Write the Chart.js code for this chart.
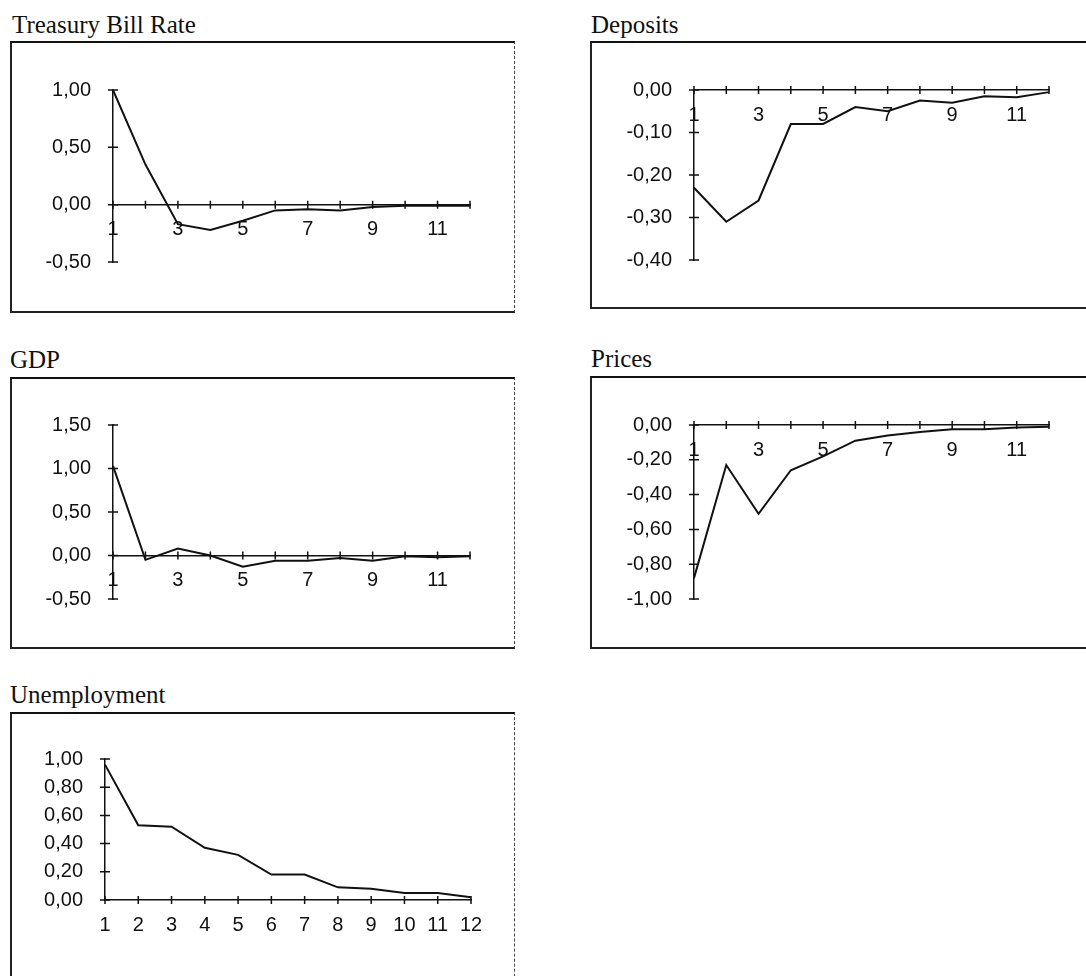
<!DOCTYPE html>
<html>
<head>
<meta charset="utf-8">
<script src="https://cdn.jsdelivr.net/npm/chart.js@4.4.1/dist/chart.umd.min.js"></script>
<style>
  html, body { margin: 0; padding: 0; background: #fff; }
  body { width: 1086px; height: 976px; position: relative; overflow: hidden; }
  .title { position: absolute; font-family: "Liberation Serif", "Times New Roman", serif; font-size: 25px; line-height: 25px; color: #111; white-space: nowrap; }
  .frame { position: absolute; box-sizing: border-box; border-top: 2px solid #111; border-left: 2px solid #222; border-bottom: 2px solid #222; border-right: 1px dashed #444; }
  canvas { position: absolute; }
</style>
</head>
<body>

<div class="title" style="left:12px; top:12px;">Treasury Bill Rate</div>
<div class="frame" style="left:10px; top:41px; width:505px; height:272px;"></div>
<canvas id="tbill" width="503" height="272" style="left:10px; top:41px;"></canvas>

<div class="title" style="left:591px; top:12px;">Deposits</div>
<div class="frame" style="left:590px; top:41px; width:520px; height:268px;"></div>
<canvas id="deposits" width="496" height="268" style="left:590px; top:41px;"></canvas>

<div class="title" style="left:10px; top:347px;">GDP</div>
<div class="frame" style="left:10px; top:377px; width:505px; height:272px;"></div>
<canvas id="gdp" width="503" height="272" style="left:10px; top:377px;"></canvas>

<div class="title" style="left:591px; top:346px;">Prices</div>
<div class="frame" style="left:590px; top:376px; width:520px; height:273px;"></div>
<canvas id="prices" width="496" height="273" style="left:590px; top:376px;"></canvas>

<div class="title" style="left:10px; top:682px;">Unemployment</div>
<div class="frame" style="left:10px; top:712px; width:505px; height:300px;"></div>
<canvas id="unemp" width="503" height="264" style="left:10px; top:712px;"></canvas>

<script>
// periods after the shock
const periods = ["1", "2", "3", "4", "5", "6", "7", "8", "9", "10", "11", "12"];

// responses
const tbillRate = [1.00, 0.35, -0.17, -0.22, -0.14, -0.05, -0.04, -0.05, -0.02, -0.01, -0.01, -0.01];
const deposits = [-0.23, -0.31, -0.26, -0.08, -0.08, -0.04, -0.05, -0.025, -0.03, -0.015, -0.017, -0.005];
const gdp = [1.03, -0.05, 0.08, 0.00, -0.13, -0.06, -0.06, -0.03, -0.06, -0.01, -0.02, -0.01];
const prices = [-0.88, -0.23, -0.51, -0.26, -0.18, -0.09, -0.06, -0.04, -0.025, -0.025, -0.015, -0.01];
const unemployment = [0.96, 0.53, 0.52, 0.37, 0.32, 0.18, 0.18, 0.09, 0.08, 0.05, 0.05, 0.02];

const axisFont = { family: "'Liberation Sans', Arial, sans-serif", size: 20 };
const ink = "#111";

// excel style "+" tick marks crossing both axes
const crossTicks = {
  id: "crossTicks",
  afterDraw(chart) {
    const x = chart.scales.x;
    const y = chart.scales.y;
    const ctx = chart.ctx;
    const zero = y.getPixelForValue(Math.max(y.min, Math.min(y.max, 0)));
    const left = chart.chartArea.left;
    ctx.save();
    ctx.strokeStyle = ink;
    ctx.lineWidth = 1.5;
    ctx.beginPath();
    x.ticks.forEach((t, i) => {
      const px = x.getPixelForTick(i);
      ctx.moveTo(px, zero - 4);
      ctx.lineTo(px, zero + 4);
    });
    y.ticks.forEach((t, i) => {
      const py = y.getPixelForTick(i);
      ctx.moveTo(left - 5, py);
      ctx.lineTo(left + 5, py);
    });
    ctx.stroke();
    ctx.restore();
  }
};

function makePanel(id, values, yMin, yMax, step, everyOther, pad) {
  const ctx = document.getElementById(id).getContext("2d");
  return new Chart(ctx, {
    type: "line",
    data: {
      labels: periods,
      datasets: [{
        data: values,
        borderColor: ink,
        borderWidth: 2,
        pointRadius: 0,
        tension: 0,
        fill: false,
      }],
    },
    options: {
      responsive: false,
      animation: false,
      layout: { padding: pad },
      plugins: { legend: { display: false }, tooltip: { enabled: false } },
      scales: {
        x: {
          type: "category",
          offset: false,
          position: { y: 0 },
          grid: { display: false, drawTicks: false },
          border: { display: true, color: ink, width: 1.5 },
          ticks: {
            autoSkip: false,
            maxRotation: 0,
            padding: 13,
            color: ink,
            font: axisFont,
            callback: function (val, i) {
              if (everyOther && i % 2 === 1) return "";
              return this.getLabelForValue(val);
            },
          },
        },
        y: {
          min: yMin,
          max: yMax,
          // labels are clipped to the axis box, so keep it wide enough
          afterFit: (s) => { s.width = 80; },
          grid: { display: false, drawTicks: false },
          border: { display: true, color: ink, width: 1.5 },
          ticks: {
            stepSize: step,
            autoSkip: false,
            padding: 22,
            color: ink,
            font: axisFont,
            callback: (v) => v.toFixed(2).replace(".", ","),
          },
        },
      },
    },
    plugins: [crossTicks],
  });
}

makePanel("tbill", tbillRate, -0.5, 1.0, 0.5, true, { left: 23, right: 43, top: 49, bottom: 51 });
makePanel("deposits", deposits, -0.4, 0, 0.1, true, { left: 24, right: 37, top: 49, bottom: 49 });
makePanel("gdp", gdp, -0.5, 1.5, 0.5, true, { left: 23, right: 43, top: 48, bottom: 50 });
makePanel("prices", prices, -1.0, 0, 0.2, true, { left: 24, right: 37, top: 49, bottom: 50 });
makePanel("unemp", unemployment, 0, 1.0, 0.2, false, { left: 15, right: 42, top: 47, bottom: 76 });
</script>
</body>
</html>
